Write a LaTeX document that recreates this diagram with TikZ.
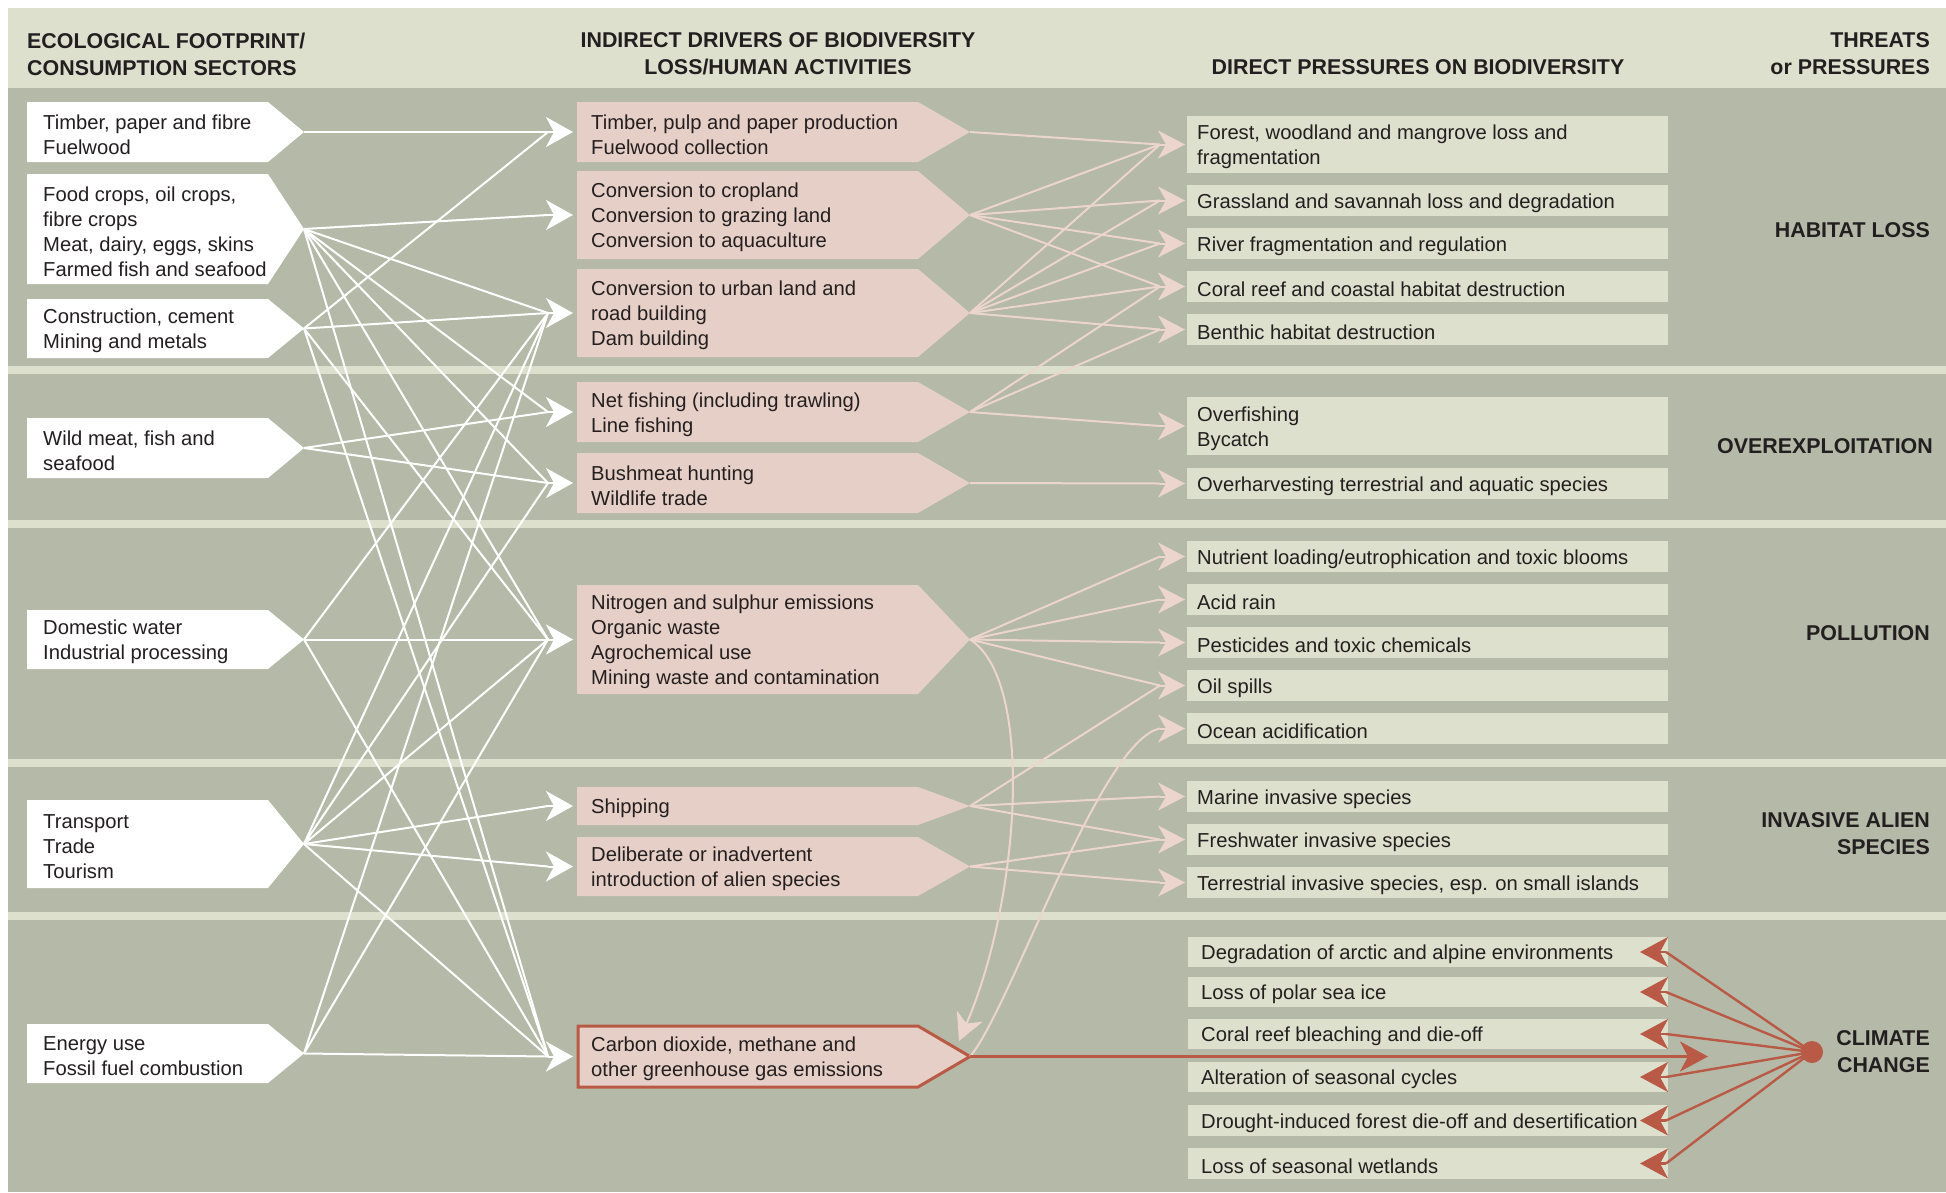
\documentclass[tikz,border=0pt]{standalone}
\usepackage{fontspec}
\setmainfont{Liberation Sans}
\usetikzlibrary{arrows.meta}
\definecolor{bgc}{HTML}{B5B9A7}
\definecolor{lite}{HTML}{DDE0CD}
\definecolor{pinkbox}{HTML}{E6CFC6}
\definecolor{pinkline}{HTML}{ECD5CD}
\definecolor{redc}{HTML}{B95A46}
\definecolor{txt}{HTML}{231F20}
\begin{document}
\begin{tikzpicture}[x=1pt,y=-1pt,
  btext/.style={font=\fontsize{20.2}{25}\selectfont, text=txt, align=left, inner sep=0pt},
  htext/.style={font=\bfseries\fontsize{21.4}{27}\selectfont, text=txt, inner sep=0pt},
  wline/.style={draw=white, line width=2pt},
  pline/.style={draw=pinkline, line width=2pt},
  rline/.style={draw=redc, line width=2.4pt},
  whead/.style={draw=white, line width=2pt, -{Stealth[length=27pt,width=30pt,inset=8pt]}},
  phead/.style={draw=pinkline, line width=2pt, -{Stealth[length=27pt,width=28pt,inset=8pt]}},
  rhead/.style={draw=redc, line width=2.4pt, -{Stealth[length=28pt,width=30pt,inset=8pt]}}
]
\useasboundingbox (0,0) rectangle (1946,1192);
% background
\fill[white] (0,0) rectangle (1946,1192);
\fill[lite] (8,8) rectangle (1946,88);
\fill[bgc] (8,88) rectangle (1946,1192);
\foreach \ya/\yb in {366/374, 520/528, 759/767, 912/920}
  \fill[lite] (8,\ya) rectangle (1946,\yb);

% headers
\node[htext, anchor=west, align=left] (h1) at (27,54) {ECOLOGICAL FOOTPRINT/\\CONSUMPTION SECTORS};
\node[htext, align=center] (h2) at (778,54) {INDIRECT DRIVERS OF BIODIVERSITY\\LOSS/HUMAN ACTIVITIES};
\node[htext] (h3) at (1418,67.5) {DIRECT PRESSURES ON BIODIVERSITY};
\node[htext, anchor=east, align=right] (h4) at (1930,54) {THREATS\\or PRESSURES};

% category labels
\node[htext, anchor=east] (k1) at (1930,230) {HABITAT LOSS};
\node[htext, anchor=east] (k2) at (1933,446) {OVEREXPLOITATION};
\node[htext, anchor=east] (k3) at (1930,633) {POLLUTION};
\node[htext, anchor=east, align=right] (k4) at (1930,834) {INVASIVE ALIEN\\SPECIES};
\node[htext, anchor=east, align=right] (k5) at (1930,1052) {CLIMATE\\CHANGE};

% left column (consumption sectors)
\foreach \nm/\ya/\yb/\tx in {
  L1/102/162/{Timber, paper and fibre\\Fuelwood},
  L2/174/284/{Food crops, oil crops,\\fibre crops\\Meat, dairy, eggs, skins\\Farmed fish and seafood},
  L3/299/358/{Construction, cement\\Mining and metals},
  L4/418/478/{Wild meat, fish and\\seafood},
  L5/610/669/{Domestic water\\Industrial processing},
  L6/800/888/{Transport\\Trade\\Tourism},
  L7/1024/1083/{Energy use\\Fossil fuel combustion}}{
  \fill[white] (27,\ya) -- (268,\ya) -- (304,{(\ya+\yb)/2}) -- (268,\yb) -- (27,\yb) -- cycle;
  \coordinate (\nm) at (304,{(\ya+\yb)/2});
  \node[btext, anchor=west] (txt\nm) at (43,{(\ya+\yb)/2+2.5}) {\tx};
}

% middle column (indirect drivers)
\foreach \nm/\ya/\yb/\tx in {
  M1/102/162/{Timber, pulp and paper production\\Fuelwood collection},
  M2/171/259/{Conversion to cropland\\Conversion to grazing land\\Conversion to aquaculture},
  M3/269/357/{Conversion to urban land and\\road building\\Dam building},
  M4/382/442/{Net fishing (including trawling)\\Line fishing},
  M5/453/513/{Bushmeat hunting\\Wildlife trade},
  M6/585/694/{Nitrogen and sulphur emissions\\Organic waste\\Agrochemical use\\Mining waste and contamination},
  M7/787/825/{Shipping},
  M8/837/896/{Deliberate or inadvertent\\introduction of alien species}}{
  \fill[pinkbox] (577,\ya) -- (918,\ya) -- (970,{(\ya+\yb)/2}) -- (918,\yb) -- (577,\yb) -- cycle;
  \coordinate (\nm) at (970,{(\ya+\yb)/2});
  \coordinate (in\nm) at (548,{(\ya+\yb)/2});
  \coordinate (tip\nm) at (573,{(\ya+\yb)/2});
  \node[btext, anchor=west] (txt\nm) at (591,{(\ya+\yb)/2+2.5}) {\tx};
}
\filldraw[fill=pinkbox, draw=redc, line width=3pt] (578,1026) -- (918,1026) -- (970,1056.5) -- (918,1087) -- (578,1087) -- cycle;
\coordinate (M9) at (970,1056.5);
\coordinate (inM9) at (548,1056.5);
\coordinate (tipM9) at (573,1056.5);
\node[btext, anchor=west] (txtM9) at (591,1059) {Carbon dioxide, methane and\\other greenhouse gas emissions};

% right column (direct pressures)
\foreach \nm/\ya/\yb/\tx in {
  R1/116/173/{Forest, woodland and mangrove loss and\\fragmentation},
  R2/185/216/{Grassland and savannah loss and degradation},
  R3/228/259/{River fragmentation and regulation},
  R4/271/302/{Coral reef and coastal habitat destruction},
  R5/314/345/{Benthic habitat destruction},
  R6/397/455/{Overfishing\\Bycatch},
  R7/468/499/{Overharvesting terrestrial and aquatic species},
  R8/541/572/{Nutrient loading/eutrophication and toxic blooms},
  R9/584/615/{Acid rain},
  R10/627/658/{Pesticides and toxic chemicals},
  R11/670/701/{Oil spills},
  R12/713/744/{Ocean acidification},
  R13/781/812/{Marine invasive species},
  R14/824/855/{Freshwater invasive species},
  R15/867/898/{Terrestrial invasive species, esp. on small islands}}{
  \fill[lite] (1187,\ya) rectangle (1668,\yb);
  \coordinate (in\nm) at (1160,{(\ya+\yb)/2});
  \coordinate (tip\nm) at (1185,{(\ya+\yb)/2});
  \node[btext, anchor=west] (txt\nm) at (1197,{(\ya+\yb)/2+2.5}) {\tx};
}

% climate change effects
\foreach \nm/\ya/\yb/\tx in {
  C1/937/967/{Degradation of arctic and alpine environments},
  C2/977/1007/{Loss of polar sea ice},
  C3/1019/1049/{Coral reef bleaching and die-off},
  C4/1062/1092/{Alteration of seasonal cycles},
  C5/1105/1136/{Drought-induced forest die-off and desertification},
  C6/1148/1179/{Loss of seasonal wetlands}}{
  \fill[lite] (1188,\ya) rectangle (1668,\yb);
  \coordinate (in\nm) at (1666,{(\ya+\yb)/2});
  \coordinate (tip\nm) at (1640,{(\ya+\yb)/2});
  \node[btext, anchor=west] (txt\nm) at (1201,{(\ya+\yb)/2+2.5}) {\tx};
}

% white connectors: consumption sectors -> indirect drivers
\foreach \s/\d in {L1/M1, L2/M2, L2/M3, L2/M4, L2/M5, L2/M6, L2/M9,
  L3/M1, L3/M3, L3/M6, L3/M9, L4/M4, L4/M5, L5/M3, L5/M6, L5/M9,
  L6/M3, L6/M5, L6/M6, L6/M7, L6/M8, L6/M9, L7/M3, L7/M6, L7/M9}
  \draw[wline] (\s) -- (in\d);
\foreach \d in {M1,M2,M3,M4,M5,M6,M7,M8,M9}
  \draw[whead] (in\d) -- (tip\d);

% pink connectors: indirect drivers -> direct pressures
\foreach \s/\d in {M1/R1, M2/R1, M2/R2, M2/R3, M2/R4, M3/R1, M3/R2, M3/R3, M3/R4, M3/R5,
  M4/R4, M4/R5, M4/R6, M5/R7, M6/R8, M6/R9, M6/R10, M6/R11,
  M7/R11, M7/R13, M7/R14, M8/R14, M8/R15}
  \draw[pline] (\s) -- (in\d);
\coordinate (topM9) at (959,1041);
\draw[phead] (M6) .. controls (1035,680) and (1020,900) .. (topM9);
\draw[pline] (M9) .. controls (1010,1010) and (1100,740) .. (inR12);
\foreach \d in {R1,R2,R3,R4,R5,R6,R7,R8,R9,R10,R11,R12,R13,R14,R15}
  \draw[phead] (in\d) -- (tip\d);

% climate change (red)
\coordinate (endCC) at (1708,1056.5);
\draw[rhead] (M9) -- (endCC);
\node[circle, fill=redc, inner sep=0pt, minimum size=22pt] (dot) at (1812,1052) {};
\foreach \d in {C1,C2,C3,C4,C5,C6}{
  \draw[rline] (dot.center) -- (in\d);
  \draw[rhead] (in\d) -- (tip\d);
}
\end{tikzpicture}
\end{document}
